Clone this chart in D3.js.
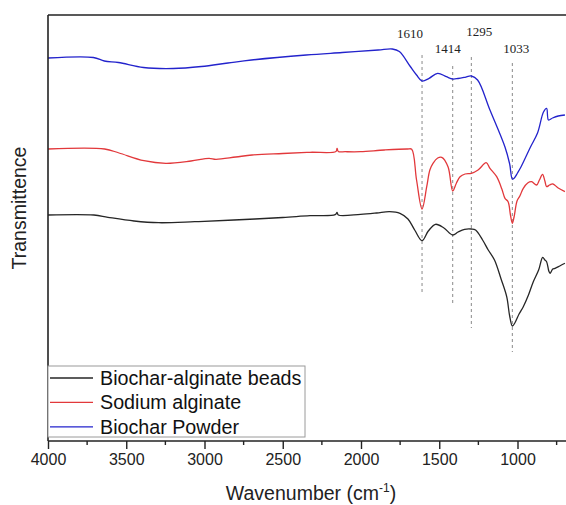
<!DOCTYPE html>
<html>
<head>
<meta charset="utf-8">
<title>FTIR</title>
<script src="https://cdn.jsdelivr.net/npm/d3@7"></script>
<style>
  body { margin: 0; background: #fff; }
  svg { display: block; }
</style>
</head>
<body>
<div id="chart"></div>
<script>
// wavenumber (cm-1), transmittance (a.u., offset curves)
var beads = [
  [4000,226],[3707,226],[3617,223.7],[3450,220],[3293,218.3],[3063,219.3],[2812,221],
  [2500,223.5],[2326,225.3],[2165,226.3],[2153,228.5],[2145,226],[2003,226.7],[1900,228],
  [1818,229.3],[1751,227.7],[1700,222],[1657,211],[1610,200.3],[1570,210],[1524,216.7],
  [1470,213],[1414,206],[1380,209],[1338,211.7],[1295,212],[1268,211],[1223,201],
  [1187,191],[1147,181],[1105,162],[1069,144.3],[1050,125],[1033,115],[1017,118],
  [990,127],[963,134.3],[930,146],[899,159.3],[865,171],[839,183.7],[825,181],[814,179.3],
  [800,170],[792,167.7],[775,172],[760,172.7],[730,175],[697,177.7]
];
var alginate = [
  [4000,292],[3638,292],[3546,288],[3387,280.3],[3247,277.7],[3086,280],[2971,282.7],
  [2927,281.7],[2800,284],[2696,286],[2500,287.5],[2326,288.7],[2160,289.5],[2153,292.5],
  [2145,289.5],[2100,289.3],[2003,289.3],[1850,291],[1703,292],[1676,291.7],[1645,261],
  [1610,232],[1580,254.3],[1560,271],[1540,277.7],[1510,283],[1484,283.7],[1444,274.3],
  [1414,250],[1390,258],[1367,264.3],[1335,267],[1295,267.7],[1252,271],[1200,278.3],
  [1176,272.7],[1133,264.3],[1100,252],[1080,242.7],[1060,239.3],[1045,226],[1033,217.7],
  [1022,224],[1003,240],[985,245],[963,252.7],[935,258],[910,259.3],[878,256],[860,261],
  [840,266.7],[825,260],[814,254.3],[795,256],[774,257],[740,253],[697,249.3]
];
var powder = [
  [4000,383],[3710,383.5],[3640,380],[3550,378.5],[3390,373.5],[3200,372.5],[3020,374.5],
  [2850,378],[2700,381],[2350,386],[2120,388.5],[1890,391],[1800,392],[1755,389.5],
  [1685,374.5],[1645,366],[1610,360],[1565,362.7],[1510,367.7],[1455,364.3],[1414,362],
  [1380,362.5],[1336,363.7],[1295,365],[1255,361],[1176,331],[1080,294],[1050,277],
  [1033,262],[1020,263],[1000,268],[978,274],[917,294],[872,308],[834,329],[814,332.7],
  [802,321],[776,323],[740,325],[697,326]
];

var seriesNames = ["Biochar-alginate beads", "Sodium alginate", "Biochar Powder"];
var seriesColors = ["#262626", "#e2383b", "#2323cc"];
var seriesData = [beads, alginate, powder];

// marked bands and the span of their guide lines (transmittance units)
var peaks = [1610, 1414, 1295, 1033];
var peakTop = [386, 375, 384, 378];
var peakBottom = [149, 138, 113, 89];

var xTicks = [4000, 3500, 3000, 2500, 2000, 1500, 1000];
var xMinor = [3750, 3250, 2750, 2250, 1750, 1250, 750];

var W = 566, H = 505;
var padL = 48, padT = 15, axisY = 441;

var svg = d3.select("#chart").append("svg")
  .attr("width", W).attr("height", H);

var x = d3.scaleLinear().domain([4000, 1000]).range([padL, 517.5]);
var y = d3.scaleLinear().domain([0, 426]).range([axisY, padT]);

// guide lines
peaks.forEach(function(p, i) {
  svg.append("line")
    .attr("x1", x(p)).attr("x2", x(p))
    .attr("y1", y(peakTop[i])).attr("y2", y(peakBottom[i]))
    .attr("stroke", "#8a8a8a").attr("stroke-width", 1)
    .attr("stroke-dasharray", "3,3");
});

// peak labels (offsets tuned to the original)
var labelDx = [-12, -5, 8, 4];
var labelDy = [-17, -13, -21, -10];
peaks.forEach(function(p, i) {
  svg.append("text")
    .attr("x", x(p) + labelDx[i])
    .attr("y", y(peakTop[i]) + labelDy[i])
    .attr("text-anchor", "middle")
    .attr("font-family", "'Liberation Serif', 'Times New Roman', serif")
    .attr("font-size", 13)
    .attr("fill", "#222")
    .text(p);
});

var line = d3.line()
  .x(function(d) { return x(d[0]); })
  .y(function(d) { return y(d[1]); })
  .curve(d3.curveCatmullRom.alpha(0.5));

seriesData.forEach(function(s, i) {
  svg.append("path")
    .datum(s)
    .attr("fill", "none")
    .attr("stroke", seriesColors[i])
    .attr("stroke-width", 1.3)
    .attr("d", line);
});

// frame
var frame = svg.append("g").attr("stroke", "#222").attr("stroke-width", 1.6);
frame.append("line").attr("x1", padL).attr("x2", W + 5).attr("y1", padT).attr("y2", padT);
frame.append("line").attr("x1", padL).attr("x2", padL).attr("y1", padT).attr("y2", axisY);

// x axis
var xAxis = svg.append("g")
  .attr("transform", "translate(0," + axisY + ")")
  .call(d3.axisBottom(x).tickValues(xTicks).tickFormat(d3.format("d"))
    .tickSize(8).tickSizeOuter(0).tickPadding(5));
xAxis.select(".domain").attr("d", "M" + padL + ",0H" + (W + 5))
  .attr("stroke", "#222").attr("stroke-width", 1.6);
xAxis.selectAll(".tick line").attr("stroke", "#222").attr("stroke-width", 1.4);
xAxis.selectAll(".tick text")
  .attr("font-family", "'Liberation Sans', Arial, sans-serif")
  .attr("font-size", 16).attr("fill", "#222");

svg.append("g").selectAll("line")
  .data(xMinor).enter().append("line")
  .attr("x1", function(d) { return x(d); })
  .attr("x2", function(d) { return x(d); })
  .attr("y1", axisY).attr("y2", axisY + 4)
  .attr("stroke", "#222").attr("stroke-width", 1.4);

// axis titles
var xt = svg.append("text")
  .attr("x", 311).attr("y", 500)
  .attr("text-anchor", "middle")
  .attr("font-family", "'Liberation Sans', Arial, sans-serif")
  .attr("font-size", 19.5).attr("fill", "#222");
xt.append("tspan").text("Wavenumber (cm");
xt.append("tspan").attr("dy", -8).attr("font-size", 12).text("-1");
xt.append("tspan").attr("dy", 8).text(")");

svg.append("text")
  .attr("transform", "translate(26,208) rotate(-90)")
  .attr("text-anchor", "middle")
  .attr("font-family", "'Liberation Sans', Arial, sans-serif")
  .attr("font-size", 19.5).attr("fill", "#222")
  .text("Transmittence");

// legend
var lg = svg.append("g");
lg.append("rect")
  .attr("x", padL).attr("y", 366).attr("width", 257).attr("height", 71)
  .attr("fill", "#fff").attr("stroke", "#9a9a9a").attr("stroke-width", 1);
seriesNames.forEach(function(n, i) {
  var ry = 378 + i * 24.4;
  lg.append("line")
    .attr("x1", 50).attr("x2", 93).attr("y1", ry).attr("y2", ry)
    .attr("stroke", seriesColors[i]).attr("stroke-width", 1.3);
  lg.append("text")
    .attr("x", 100).attr("y", ry)
    .attr("dominant-baseline", "central")
    .attr("font-family", "'Liberation Sans', Arial, sans-serif")
    .attr("font-size", 19.7).attr("fill", "#111")
    .text(n);
});
</script>
</body>
</html>
